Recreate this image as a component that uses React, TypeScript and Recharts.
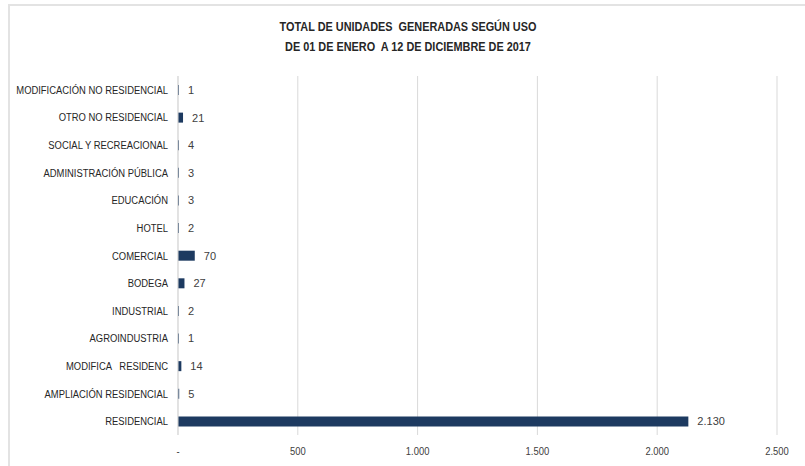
import { BarChart, Bar, XAxis, YAxis, CartesianGrid, LabelList } from "recharts";

const usos = [
  "MODIFICACIÓN NO RESIDENCIAL",
  "OTRO NO RESIDENCIAL",
  "SOCIAL Y RECREACIONAL",
  "ADMINISTRACIÓN PÚBLICA",
  "EDUCACIÓN",
  "HOTEL",
  "COMERCIAL",
  "BODEGA",
  "INDUSTRIAL",
  "AGROINDUSTRIA",
  "MODIFICA   RESIDENC",
  "AMPLIACIÓN RESIDENCIAL",
  "RESIDENCIAL",
];
const unidades = [1, 21, 4, 3, 3, 2, 70, 27, 2, 1, 14, 5, 2130];
const xTicks = [0, 500, 1000, 1500, 2000, 2500];

const data = usos.map((uso, i) => ({ uso, unidades: unidades[i] }));

const FONT = "'Liberation Sans', Arial, sans-serif";
// no narrow font installed, so squeeze text horizontally to look like Calibri
const SQUEEZE = 0.82;

// 2130 -> "2.130", 0 -> "-"
const fmt = (v: number) => (Number(v) === 0 ? "-" : Number(v).toLocaleString("de-DE"));

function YTick({ x, y, payload }: any) {
  return (
    <g transform={`translate(${x},${y})`}>
      <text
        textAnchor="end"
        dy="0.35em"
        transform={`scale(${SQUEEZE},1)`}
        fontSize={11.5}
        fill="#262626"
        fontFamily={FONT}
        style={{ whiteSpace: "pre" }}
      >
        {payload.value}
      </text>
    </g>
  );
}

function XTick({ x, y, payload }: any) {
  return (
    <g transform={`translate(${x},${y})`}>
      <text textAnchor="middle" dy="0.71em" transform={`scale(${SQUEEZE},1)`} fontSize={11.5} fill="#404040" fontFamily={FONT}>
        {fmt(payload.value)}
      </text>
    </g>
  );
}

export default function App() {
  return (
    <div style={{ position: "fixed", left: 0, top: 0, width: 805, height: 466, background: "#fff", fontFamily: FONT }}>
      <div style={{ position: "absolute", left: 8, top: 4, right: -2, bottom: -2, borderLeft: "2px solid #e3e3e3", borderTop: "2px solid #e3e3e3" }} />
      <div
        style={{
          position: "absolute",
          left: 0,
          width: 816,
          top: 17,
          textAlign: "center",
          fontWeight: "bold",
          fontSize: 12.5,
          lineHeight: "20px",
          color: "#262626",
          transform: "scaleX(0.87)",
          transformOrigin: "408px 0",
        }}
      >
        <div>TOTAL DE UNIDADES&nbsp; GENERADAS SEGÚN USO</div>
        <div>DE 01 DE ENERO&nbsp; A 12 DE DICIEMBRE DE 2017</div>
      </div>
      <div style={{ position: "absolute", left: 0, top: 0 }}>
        <BarChart
          width={805}
          height={466}
          data={data}
          layout="vertical"
          margin={{ top: 76, right: 28, bottom: 0, left: 0 }}
          barCategoryGap={0}
        >
          <CartesianGrid horizontal={false} stroke="#d9d9d9" />
          <XAxis
            type="number"
            domain={[0, 2500]}
            ticks={xTicks}
            axisLine={false}
            tickLine={false}
            tickSize={0}
            tickMargin={12}
            height={31}
            tick={<XTick />}
          />
          <YAxis
            type="category"
            dataKey="uso"
            width={178}
            interval={0}
            tickLine={false}
            axisLine={{ stroke: "#d9d9d9" }}
            tickSize={0}
            tickMargin={10}
            tick={<YTick />}
          />
          <Bar dataKey="unidades" fill="#1d3a60" barSize={10} minPointSize={1} isAnimationActive={false}>
            <LabelList
              dataKey="unidades"
              position="right"
              offset={9}
              formatter={(v: any) => fmt(Number(v))}
              style={{ fontSize: 11, fill: "#404040", fontFamily: FONT }}
            />
          </Bar>
        </BarChart>
      </div>
    </div>
  );
}
